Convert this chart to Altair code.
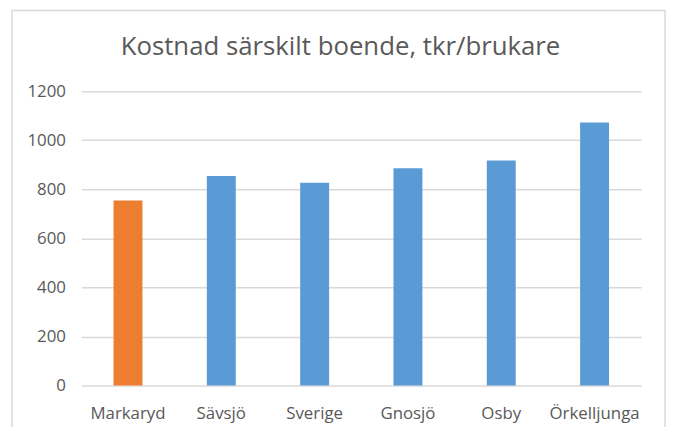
import altair as alt
import pandas as pd

# Data
kommuner = ["Markaryd", "Sävsjö", "Sverige", "Gnosjö", "Osby", "Örkelljunga"]
kostnad = [754, 854, 827, 886, 917, 1072]
highlight = "Markaryd"
y_ticks = [0, 200, 400, 600, 800, 1000, 1200]

df = pd.DataFrame({"kommun": kommuner, "kostnad": kostnad})

FONT = "Open Sans"
TEXT = "#595959"
GRID = "#D9D9D9"

bars = alt.Chart(df).mark_bar().encode(
    x=alt.X(
        "kommun:N",
        sort=kommuner,
        title=None,
        scale=alt.Scale(paddingInner=0.69, paddingOuter=0.345),
        axis=alt.Axis(
            labelAngle=0, ticks=False, domain=False, grid=False,
            labelFont=FONT, labelFontSize=17, labelColor=TEXT,
            labelPadding=20,
        ),
    ),
    y=alt.Y(
        "kostnad:Q",
        title=None,
        scale=alt.Scale(domain=[0, 1200], nice=False),
        axis=alt.Axis(
            values=y_ticks, format="d", ticks=False, domain=False, grid=True,
            gridColor=GRID, gridWidth=1.5,
            labelFont=FONT, labelFontSize=17, labelColor=TEXT,
            labelPadding=16,
        ),
    ),
    color=alt.condition(
        alt.datum.kommun == highlight,
        alt.value("#ED7D31"),
        alt.value("#5B9BD5"),
    ),
)

frame = alt.Chart(alt.Data(values=[{"f": 1}])).mark_rect(
    fillOpacity=0, stroke=GRID, strokeWidth=1.5, clip=False
).encode(
    x=alt.value(-70), x2=alt.value(589),
    y=alt.value(-81.5), y2=alt.value(360),
)

chart = alt.layer(frame, bars).properties(
    width=565,
    height=297,
    title=alt.TitleParams(
        "Kostnad särskilt boende, tkr/brukare",
        font=FONT, fontSize=26, fontWeight="normal", color=TEXT,
        anchor="middle", frame="group", dx=-21, offset=-71.5,
        baseline="alphabetic",
    ),
    autosize=alt.AutoSizeParams(type="none"),
    padding={"left": 74, "top": 82, "right": 26, "bottom": 40},
).configure_view(stroke=None)

chart.save("out.html", embed_options={"renderer": "svg", "actions": False})
